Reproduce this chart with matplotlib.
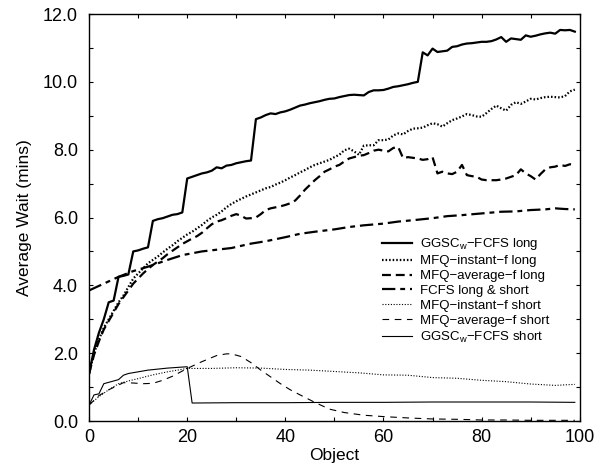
import matplotlib

matplotlib.use("Agg")
import matplotlib.pyplot as plt
from matplotlib.ticker import MultipleLocator, FormatStrFormatter

plt.rcParams["font.family"] = ["Liberation Sans", "DejaVu Sans"]
plt.rcParams["mathtext.default"] = "regular"

# --- data ------------------------------------------------------------------
obj = list(range(100))

ggsc_long = [
    1.40, 2.10, 2.60, 3.00, 3.50, 3.55, 4.25, 4.28, 4.32, 5.00,
    5.03, 5.08, 5.12, 5.90, 5.95, 5.98, 6.03, 6.08, 6.10, 6.15,
    7.15, 7.20, 7.25, 7.30, 7.33, 7.38, 7.48, 7.45, 7.53, 7.55,
    7.60, 7.63, 7.66, 7.68, 8.90, 8.95, 9.02, 9.07, 9.05, 9.10,
    9.13, 9.18, 9.24, 9.30, 9.33, 9.37, 9.40, 9.43, 9.47, 9.50,
    9.51, 9.55, 9.58, 9.61, 9.62, 9.61, 9.60, 9.70, 9.75, 9.75,
    9.76, 9.80, 9.85, 9.87, 9.90, 9.93, 9.97, 10.00, 10.87, 10.78,
    10.98, 10.88, 10.90, 10.92, 11.03, 11.05, 11.10, 11.13, 11.14, 11.16,
    11.18, 11.18, 11.20, 11.25, 11.32, 11.18, 11.28, 11.26, 11.24, 11.37,
    11.33, 11.36, 11.40, 11.43, 11.45, 11.42, 11.53, 11.52, 11.53, 11.48,
]

mfq_inst_long = [
    1.40, 2.00, 2.40, 2.75, 3.00, 3.25, 3.50, 3.70, 3.95, 4.20,
    4.35, 4.50, 4.65, 4.75, 4.85, 4.97, 5.08, 5.18, 5.30, 5.40,
    5.50, 5.58, 5.68, 5.78, 5.90, 6.00, 6.08, 6.18, 6.30, 6.40,
    6.48, 6.55, 6.62, 6.68, 6.74, 6.80, 6.86, 6.90, 6.97, 7.03,
    7.10, 7.18, 7.25, 7.33, 7.40, 7.48, 7.55, 7.60, 7.65, 7.70,
    7.78, 7.85, 7.98, 8.03, 7.95, 7.85, 8.12, 8.13, 8.13, 8.28,
    8.28, 8.30, 8.42, 8.48, 8.45, 8.55, 8.62, 8.63, 8.65, 8.72,
    8.78, 8.75, 8.68, 8.78, 8.87, 8.92, 8.98, 9.05, 9.02, 8.98,
    8.97, 9.08, 9.20, 9.30, 9.22, 9.15, 9.32, 9.40, 9.35, 9.42,
    9.50, 9.48, 9.52, 9.55, 9.56, 9.55, 9.54, 9.58, 9.72, 9.77,
]

mfq_avg_long = [
    1.40, 1.95, 2.35, 2.70, 2.95, 3.20, 3.45, 3.65, 3.85, 4.05,
    4.20, 4.35, 4.48, 4.60, 4.70, 4.80, 4.92, 5.02, 5.12, 5.22,
    5.30, 5.38, 5.45, 5.55, 5.68, 5.80, 5.88, 5.92, 5.98, 6.05,
    6.10, 6.05, 5.97, 5.98, 6.00, 6.10, 6.22, 6.27, 6.30, 6.33,
    6.37, 6.42, 6.50, 6.65, 6.82, 6.96, 7.10, 7.22, 7.35, 7.42,
    7.50, 7.55, 7.65, 7.74, 7.78, 7.82, 7.84, 7.90, 7.97, 8.00,
    7.97, 7.95, 8.05, 8.08, 7.75, 7.78, 7.76, 7.74, 7.70, 7.72,
    7.78, 7.30, 7.35, 7.30, 7.28, 7.35, 7.55, 7.25, 7.22, 7.20,
    7.12, 7.10, 7.10, 7.10, 7.12, 7.15, 7.20, 7.25, 7.42, 7.30,
    7.22, 7.12, 7.28, 7.42, 7.48, 7.50, 7.55, 7.52, 7.57, 7.55,
]

fcfs_x = [0, 3, 6, 9, 12, 16, 19, 23, 26, 29, 33, 36, 40, 43, 46, 50,
          53, 56, 60, 63, 66, 70, 73, 76, 80, 84, 87, 90, 93, 95, 97, 99]
fcfs = [3.85, 4.05, 4.25, 4.42, 4.55, 4.75, 4.89, 5.00, 5.05, 5.10, 5.23,
        5.30, 5.42, 5.52, 5.58, 5.65, 5.72, 5.77, 5.82, 5.88, 5.92, 5.98,
        6.04, 6.07, 6.12, 6.17, 6.18, 6.22, 6.24, 6.27, 6.25, 6.24]

ggsc_short_x = [0, 1, 2, 3, 4, 5, 6, 7, 8, 10, 12, 14, 16, 18, 20, 21,
                30, 40, 50, 60, 70, 80, 90, 99]
ggsc_short = [0.47, 0.77, 0.80, 1.10, 1.14, 1.18, 1.22, 1.35, 1.40, 1.45,
              1.50, 1.53, 1.56, 1.58, 1.60, 0.53, 0.54, 0.54, 0.55, 0.55,
              0.56, 0.56, 0.56, 0.55]

mfq_inst_short_x = [0, 2, 4, 6, 8, 10, 13, 16, 20, 25, 30, 35, 40, 45, 50,
                    55, 60, 65, 70, 75, 80, 85, 90, 95, 99]
mfq_inst_short = [0.47, 0.72, 0.92, 1.10, 1.18, 1.25, 1.36, 1.45, 1.55, 1.55,
                  1.57, 1.56, 1.52, 1.50, 1.46, 1.42, 1.36, 1.35, 1.28, 1.26,
                  1.20, 1.16, 1.09, 1.05, 1.08]

mfq_avg_short_x = [0, 2, 4, 7, 9, 11, 13, 15, 17, 20, 23, 26, 28, 29, 31, 33,
                   35, 37, 39, 41, 43, 46, 49, 52, 56, 60, 65, 70, 75, 80,
                   85, 90, 95, 99]
mfq_avg_short = [0.47, 0.75, 0.92, 1.13, 1.12, 1.10, 1.11, 1.20, 1.32, 1.55,
                 1.75, 1.93, 1.98, 1.98, 1.90, 1.72, 1.50, 1.30, 1.10, 0.92,
                 0.77, 0.55, 0.35, 0.25, 0.17, 0.13, 0.09, 0.06, 0.05, 0.03,
                 0.03, 0.02, 0.02, 0.02]

# --- plot ----------------------------------------------------------------
fig = plt.figure(figsize=(6.02, 4.67), dpi=100)
ax = fig.add_axes([0.148, 0.0985, 0.815, 0.8715])

thick, thin = 1.6, 0.8
ax.plot(obj, ggsc_long, color="k", lw=thick, label="GGSC$_w$\u2212FCFS long")
ax.plot(obj, mfq_inst_long, color="k", lw=thick, ls=(0, (0.7, 0.9)),
        label="MFQ\u2212instant\u2212f long")
ax.plot(obj, mfq_avg_long, color="k", lw=thick, ls=(0, (4, 2.2)),
        label="MFQ\u2212average\u2212f long")
ax.plot(fcfs_x, fcfs, color="k", lw=thick, ls=(0, (6, 2.2, 2.2, 2.2)),
        label="FCFS long & short")
ax.plot(mfq_inst_short_x, mfq_inst_short, color="k", lw=thin, ls=(0, (1, 1.5)),
        label="MFQ\u2212instant\u2212f short")
ax.plot(mfq_avg_short_x, mfq_avg_short, color="k", lw=thin, ls=(0, (6, 5)),
        label="MFQ\u2212average\u2212f short")
ax.plot(ggsc_short_x, ggsc_short, color="k", lw=thin,
        label="GGSC$_w$\u2212FCFS short")

ax.set_xlim(0, 100)
ax.set_ylim(0, 12)
ax.xaxis.set_major_locator(MultipleLocator(20))
ax.xaxis.set_minor_locator(MultipleLocator(10))
ax.yaxis.set_major_locator(MultipleLocator(2))
ax.yaxis.set_minor_locator(MultipleLocator(1))
ax.yaxis.set_major_formatter(FormatStrFormatter("%.1f"))
ax.tick_params(which="both", direction="in", top=True, right=True,
               length=3, width=0.8, labelsize=13)
ax.tick_params(axis="y", pad=8)
ax.tick_params(axis="x", pad=6)
for s in ax.spines.values():
    s.set_linewidth(1.0)

ax.set_xlabel("Object", fontsize=12.5, labelpad=1)
ax.set_ylabel("Average Wait (mins)", fontsize=12.5, labelpad=8)

ax.legend(loc="upper left", bbox_to_anchor=(0.596, 0.4535), frameon=False,
          fontsize=9.5, handlelength=2.3, handletextpad=0.6,
          labelspacing=0.2, borderpad=0, borderaxespad=0)

fig.savefig("out.png", dpi=100)
